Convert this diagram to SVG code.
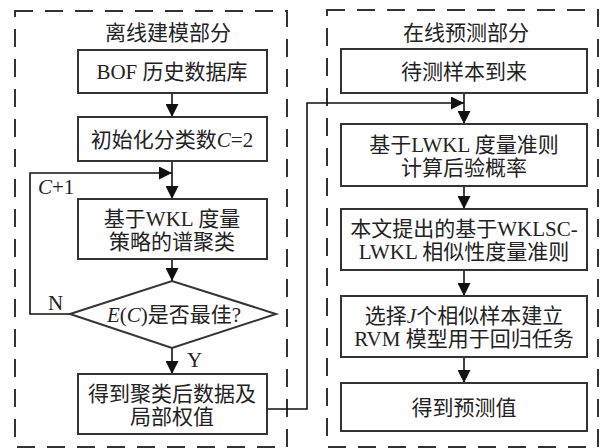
<svg xmlns="http://www.w3.org/2000/svg" width="603" height="448" viewBox="0 0 603 448">
<style>
.t{font-family:"Liberation Serif","Noto Sans CJK SC",serif;font-size:21px;fill:#222;text-anchor:middle}
.l{font-family:"Liberation Serif","Noto Sans CJK SC",serif;font-size:21px;fill:#222}
.i{font-style:italic}
.box{fill:#fff;stroke:#333;stroke-width:2}
.dash{fill:none;stroke:#333;stroke-width:2;stroke-dasharray:18 12}
.c{fill:none;stroke:#111;stroke-width:1.6}
</style>
<defs>
<marker id="ah" markerUnits="userSpaceOnUse" viewBox="0 0 13 13" markerWidth="13" markerHeight="13" refX="13" refY="6.5" orient="auto">
<path d="M0,0 L13,6.5 L0,13 z" fill="#111"/>
</marker>
</defs>
<g id="offline-frame">
<rect class="dash" x="15" y="11" width="272" height="436"/>
<text class="t" x="168" y="40">离线建模部分</text>
</g>
<g id="online-frame">
<rect class="dash" x="327" y="10" width="271" height="437"/>
<text class="t" x="466" y="40">在线预测部分</text>
</g>
<g id="connectors">
<path class="c" d="M172,93 L172,117" marker-end="url(#ah)"/>
<path class="c" d="M172,161 L172,199" marker-end="url(#ah)"/>
<path class="c" d="M172,259 L172,281" marker-end="url(#ah)"/>
<path class="c" d="M172,348 L172,374" marker-end="url(#ah)"/>
<path class="c" d="M70,314 L30,314 L30,173 L172,173" marker-end="url(#ah)"/>
<path class="c" d="M267,409 L307,409 L307,103 L464,103" marker-end="url(#ah)"/>
<path class="c" d="M464,93 L464,124" marker-end="url(#ah)"/>
<path class="c" d="M464,186 L464,209" marker-end="url(#ah)"/>
<path class="c" d="M464,270 L464,296" marker-end="url(#ah)"/>
<path class="c" d="M464,357 L464,383" marker-end="url(#ah)"/>
<text class="l" x="38" y="194"><tspan class="i">C</tspan>+1</text>
<text class="l" x="48" y="310">N</text>
<text class="l" x="187" y="367">Y</text>
</g>
<g id="bof">
<rect class="box" x="78" y="50" width="189" height="43"/>
<text class="t" x="172" y="79">BOF 历史数据库</text>
</g>
<g id="init">
<rect class="box" x="78" y="117" width="189" height="44"/>
<text class="t" x="172" y="147">初始化分类数<tspan class="i">C</tspan>=2</text>
</g>
<g id="spectral">
<rect class="box" x="78" y="199" width="189" height="60"/>
<text class="t" x="172" y="226">基于WKL 度量</text>
<text class="t" x="172" y="249">策略的谱聚类</text>
</g>
<g id="decision">
<polygon class="box" points="70,314 172,281 276,314 172,348"/>
<text class="t" x="174" y="322"><tspan class="i">E</tspan>(<tspan class="i">C</tspan>)是否最佳?</text>
</g>
<g id="result">
<rect class="box" x="78" y="374" width="189" height="60"/>
<text class="t" x="172" y="401">得到聚类后数据及</text>
<text class="t" x="172" y="424">局部权值</text>
</g>
<g id="sample">
<rect class="box" x="341" y="49" width="246" height="44"/>
<text class="t" x="464" y="79">待测样本到来</text>
</g>
<g id="posterior">
<rect class="box" x="341" y="124" width="246" height="62"/>
<text class="t" x="464" y="152">基于LWKL 度量准则</text>
<text class="t" x="464" y="175">计算后验概率</text>
</g>
<g id="similarity">
<rect class="box" x="341" y="209" width="246" height="61"/>
<text class="t" x="464" y="236">本文提出的基于WKLSC-</text>
<text class="t" x="464" y="259">LWKL 相似性度量准则</text>
</g>
<g id="rvm">
<rect class="box" x="341" y="296" width="246" height="61"/>
<text class="t" x="464" y="323">选择<tspan class="i">J</tspan>个相似样本建立</text>
<text class="t" x="464" y="346">RVM 模型用于回归任务</text>
</g>
<g id="predict">
<rect class="box" x="341" y="383" width="246" height="48"/>
<text class="t" x="464" y="415">得到预测值</text>
</g>
</svg>
